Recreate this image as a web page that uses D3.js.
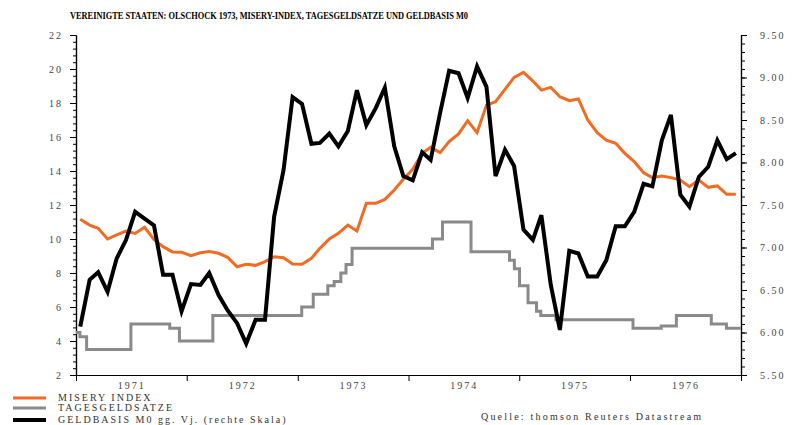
<!DOCTYPE html>
<html>
<head>
<meta charset="utf-8">
<script src="https://cdn.jsdelivr.net/npm/d3@7"></script>
<style>
  html, body { margin: 0; padding: 0; background: #fff; }
  svg text { font-family: "Liberation Serif", "Times New Roman", serif; }
</style>
</head>
<body>
<svg width="792" height="425"></svg>
<script>
// chart values
const title = 'VEREINIGTE STAATEN: OLSCHOCK 1973, MISERY-INDEX, TAGESGELDSATZE UND GELDBASIS  M0'
const source = 'Quelle: thomson Reuters Datastream'
const seriesNames = ['MISERY INDEX', 'TAGESGELDSATZE', 'GELDBASIS M0 gg. Vj. (rechte Skala)']
const years = [1971, 1972, 1973, 1974, 1975, 1976]

// monthly, Jan 1971 .. Dec 1976
const miseryIndex = [
  11.16, 10.82, 10.63, 10.00, 10.24, 10.47, 10.33, 10.69, 9.98, 9.55, 9.24, 9.22,
  9.02, 9.19, 9.27, 9.16, 8.92, 8.37, 8.51, 8.45, 8.67, 8.96, 8.90, 8.53,
  8.51, 8.86, 9.45, 10.00, 10.33, 10.82, 10.47, 12.10, 12.10, 12.33, 12.88, 13.51,
  14.10, 15.04, 15.39, 15.08, 15.73, 16.18, 16.96, 16.25, 17.88, 18.08, 18.80, 19.51,
  19.80, 19.29, 18.76, 18.92, 18.37, 18.14, 18.24, 17.00, 16.25, 15.82, 15.63, 15.04,
  14.55, 13.90, 13.61, 13.71, 13.61, 13.47, 13.08, 13.47, 13.04, 13.12, 12.63, 12.63
]
const monetaryBase = [
  6.07, 6.62, 6.71, 6.48, 6.87, 7.09, 7.42, 7.34, 7.26, 6.68, 6.68, 6.25,
  6.57, 6.56, 6.70, 6.44, 6.26, 6.11, 5.87, 6.15, 6.15, 7.36, 7.91, 8.77,
  8.69, 8.22, 8.23, 8.34, 8.19, 8.37, 8.85, 8.44, 8.64, 8.88, 8.19, 7.84,
  7.79, 8.12, 8.03, 8.58, 9.08, 9.05, 8.76, 9.13, 8.89, 7.84, 8.15, 7.96,
  7.21, 7.09, 7.38, 6.56, 6.03, 6.96, 6.93, 6.66, 6.66, 6.85, 7.25, 7.25,
  7.42, 7.75, 7.72, 8.26, 8.56, 7.62, 7.48, 7.83, 7.95, 8.26, 8.04, 8.11
]
// step series: date of each change and the new level
const rateDates = [
  '1971-01-01', '1971-01-14', '1971-02-05', '1971-07-01', '1971-11-06', '1971-12-08',
  '1972-03-27', '1973-01-14', '1973-02-21', '1973-04-10', '1973-05-01', '1973-05-23',
  '1973-06-09', '1973-06-29', '1974-03-21', '1974-04-23', '1974-07-26', '1974-11-30',
  '1974-12-16', '1975-01-02', '1975-01-30', '1975-02-27', '1975-03-13', '1975-05-02',
  '1976-01-11', '1976-04-13', '1976-06-02', '1976-09-25', '1976-11-14', '1976-12-31'
]
const rateValues = [
  4.5, 4.25, 3.5, 5.0, 4.75, 4.0,
  5.5, 6.0, 6.75, 7.25, 7.5, 8.0,
  8.5, 9.45, 10.0, 11.0, 9.25, 8.75,
  8.25, 7.25, 6.25, 5.75, 5.5, 5.25,
  4.75, 4.88, 5.5, 5.0, 4.75, 4.75
]

const colors = ['#f26b22', '#8a8a8a', '#000000']

const plotLeft = 76
const plotRight = 741
const plotTop = 35
const plotBottom = 375

let svg = d3.select('svg')

let parse = d3.timeParse('%Y-%m-%d')
let monthDates = miseryIndex.map((d, i) => new Date(1971, i, 15))

let xScale = d3.scaleTime()
  .domain([new Date(1971, 0, 1), new Date(1977, 0, 1)])
  .range([plotLeft, plotRight])
let yLeft = d3.scaleLinear().domain([2, 22]).range([plotBottom, plotTop])
let yRight = d3.scaleLinear().domain([5.5, 9.5]).range([plotBottom, plotTop])

function styleAxis(g) {
  g.selectAll('path.domain').attr('stroke', '#000').attr('stroke-width', 1.2)
  g.selectAll('.tick line').attr('stroke', '#000').attr('stroke-width', 1)
  g.selectAll('.tick text')
    .attr('fill', '#444')
    .style('font-size', '10px')
    .style('letter-spacing', '2px')
}

function drawAxes() {
  // left
  let gl = svg.append('g').attr('transform', 'translate(' + plotLeft + ',0)')
  gl.append('g').call(d3.axisLeft(yLeft).tickValues(d3.range(2, 22.001, 0.4)).tickSize(3).tickSizeOuter(0).tickFormat(''))
  gl.append('g').call(d3.axisLeft(yLeft).tickValues(d3.range(2, 23, 2)).tickSize(6).tickSizeOuter(0).tickPadding(7).tickFormat(d3.format('d')))
  styleAxis(gl)

  // right
  let gr = svg.append('g').attr('transform', 'translate(' + plotRight + ',0)')
  gr.append('g').call(d3.axisRight(yRight).tickValues(d3.range(5.5, 9.5001, 0.1)).tickSize(4).tickSizeOuter(0).tickFormat(''))
  gr.append('g').call(d3.axisRight(yRight).tickValues(d3.range(5.5, 9.51, 0.5)).tickSize(6).tickSizeOuter(0).tickPadding(13).tickFormat(d3.format('.2f')))
  styleAxis(gr)

  // bottom: ticks at year starts, labels in the middle of the year
  let gb = svg.append('g').attr('transform', 'translate(0,' + plotBottom + ')')
  gb.append('g').call(d3.axisBottom(xScale).tickValues(years.map(y => new Date(y, 0, 1)).concat([new Date(1977, 0, 1)])).tickSize(6).tickSizeOuter(0).tickFormat(''))
  gb.append('g').call(d3.axisBottom(xScale).tickValues(years.map(y => new Date(y, 6, 2))).tickSize(0).tickPadding(7).tickFormat(d3.timeFormat('%Y')))
    .select('path.domain').remove()
  styleAxis(gb)
}

function drawLines() {
  let rateLine = d3.line()
    .x((d, i) => xScale(parse(rateDates[i])))
    .y(d => yLeft(d))
    .curve(d3.curveStepAfter)
  svg.append('path')
    .datum(rateValues)
    .attr('fill', 'none')
    .attr('stroke', colors[1])
    .attr('stroke-width', 3)
    .attr('d', rateLine)

  let miseryLine = d3.line()
    .x((d, i) => xScale(monthDates[i]))
    .y(d => yLeft(d))
  svg.append('path')
    .datum(miseryIndex)
    .attr('fill', 'none')
    .attr('stroke', colors[0])
    .attr('stroke-width', 3)
    .attr('d', miseryLine)

  let baseLine = d3.line()
    .x((d, i) => xScale(monthDates[i]))
    .y(d => yRight(d))
  svg.append('path')
    .datum(monetaryBase)
    .attr('fill', 'none')
    .attr('stroke', colors[2])
    .attr('stroke-width', 4)
    .attr('d', baseLine)
}

function drawText() {
  svg.append('text')
    .attr('x', 70)
    .attr('y', 19)
    .attr('textLength', 398)
    .attr('lengthAdjust', 'spacingAndGlyphs')
    .style('font-size', '10px')
    .style('font-weight', 'bold')
    .attr('fill', '#000')
    .text(title)

  let legendY = [398, 408, 420]
  let legend = svg.append('g')
  seriesNames.forEach((name, i) => {
    legend.append('line')
      .attr('x1', 13).attr('x2', 46)
      .attr('y1', legendY[i]).attr('y2', legendY[i])
      .attr('stroke', colors[i])
      .attr('stroke-width', i == 2 ? 4 : 3)
    legend.append('text')
      .attr('x', 58)
      .attr('y', legendY[i] + 3)
      .attr('fill', '#333')
      .style('font-size', '10px')
      .style('letter-spacing', '2px')
      .text(name)
  })

  svg.append('text')
    .attr('x', 481)
    .attr('y', 420)
    .attr('fill', '#333')
    .style('font-size', '10px')
    .style('letter-spacing', '2.2px')
    .text(source)
}

drawAxes()
drawLines()
drawText()
</script>
</body>
</html>
